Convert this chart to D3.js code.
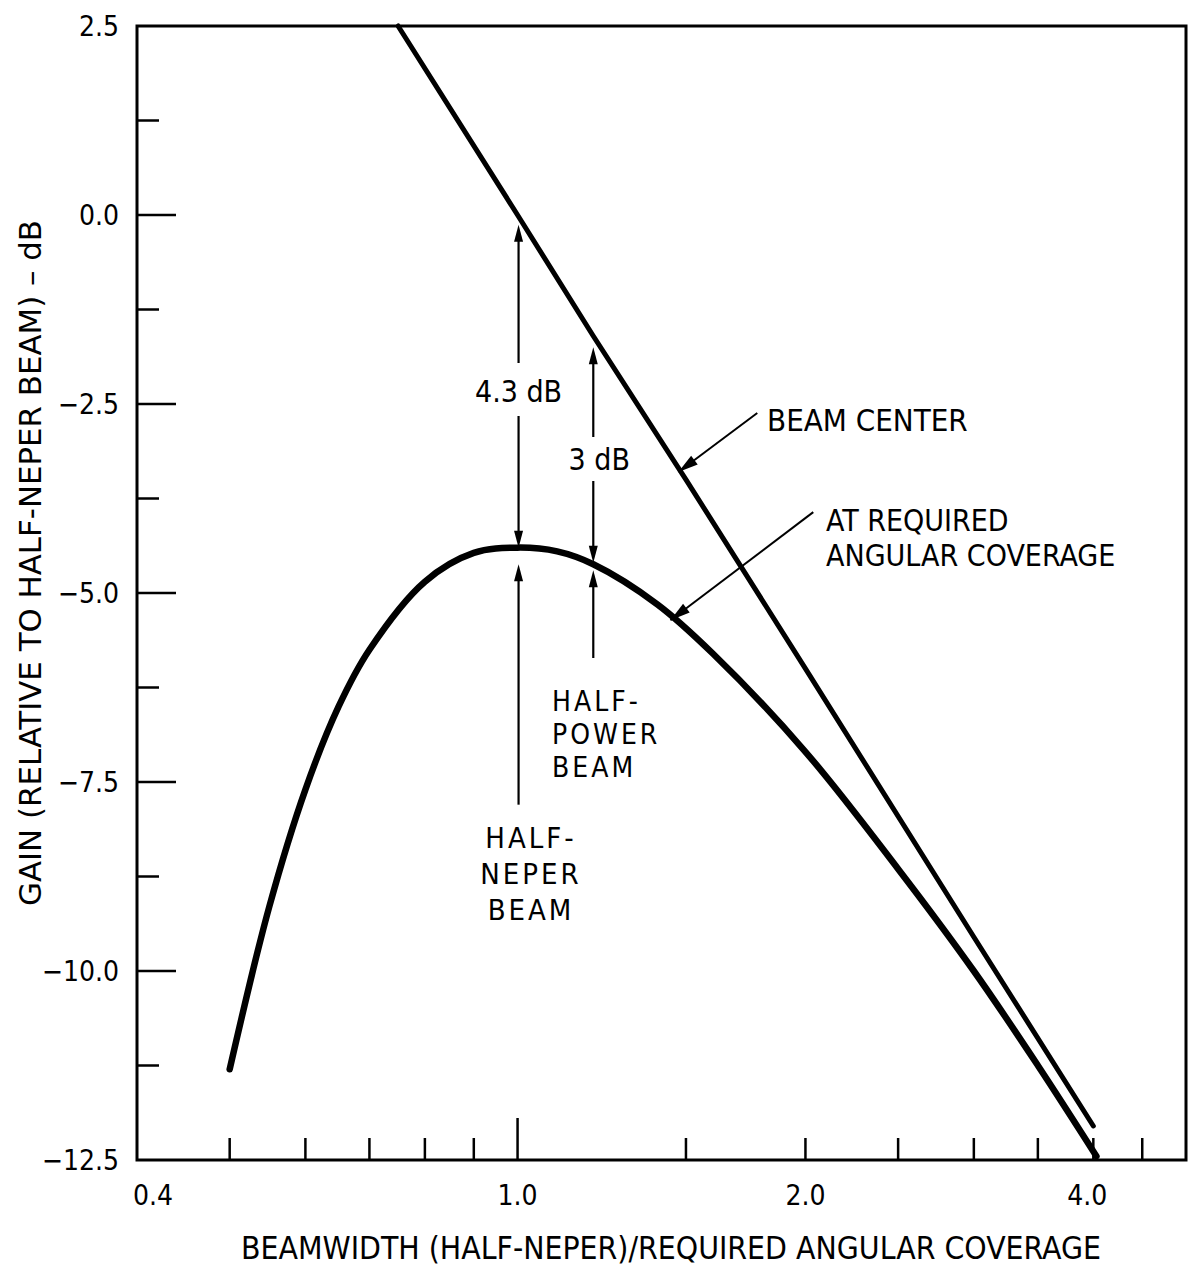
<!DOCTYPE html>
<html><head><meta charset="utf-8">
<script src="https://cdn.jsdelivr.net/npm/d3@7"></script>
<style>
html,body{margin:0;padding:0;background:#fff;}
text{font-family:"DejaVu Sans Condensed","DejaVu Sans",sans-serif;font-stretch:condensed;fill:#000;}
</style></head><body>
<svg id="c" width="1193" height="1271"></svg>
<script>
// ---- data ----
const xDomain = [0.4, 5.0];
const yDomain = [-12.5, 2.5];
const xLabelTicks = [0.4, 1.0, 2.0, 4.0];
const xTickLabels = ["0.4", "1.0", "2.0", "4.0"];
const xMajorTicks = [1.0];
const xMinorTicks = [0.5, 0.6, 0.7, 0.8, 0.9, 1.5, 2.0, 2.5, 3.0, 3.5, 4.0, 4.5];
const yMajorTicks = [0.0, -2.5, -5.0, -7.5, -10.0];
const yMinorTicks = [1.25, -1.25, -3.75, -6.25, -8.75, -11.25];
const yLabelTicks = [2.5, 0.0, -2.5, -5.0, -7.5, -10.0, -12.5];
const yTickLabels = ["2.5", "0.0", "\u22122.5", "\u22125.0", "\u22127.5", "\u221210.0", "\u221212.5"];
const beamCenterX = [0.75, 1.0, 1.2, 1.5, 2.0, 3.0, 4.0];
const beamCenterY = [2.5, 0.0, -1.6, -3.5, -6.0, -9.55, -12.05];
const coverageX = [0.5, 0.55, 0.6, 0.65, 0.7, 0.8, 0.9, 1.0, 1.1, 1.2, 1.4, 1.6, 2.0, 2.5, 3.0, 3.5, 4.03];
const coverageY = [-11.3, -9.15, -7.6, -6.5, -5.75, -4.85, -4.47, -4.4, -4.45, -4.62, -5.15, -5.8, -7.1, -8.65, -10.0, -11.25, -12.45];
const xTitle = "BEAMWIDTH  (HALF-NEPER)/REQUIRED ANGULAR COVERAGE";
const yTitle = "GAIN  (RELATIVE TO HALF-NEPER BEAM) \u2013 dB";

// ---- layout ----
const svg = d3.select("#c");
const L = 137, R = 1186, T = 26, B = 1160;
const x = d3.scaleLog().domain(xDomain).range([L, R]);
const y = d3.scaleLinear().domain(yDomain).range([B, T]);

// frame
svg.append("rect").attr("x", L).attr("y", T).attr("width", R - L).attr("height", B - T)
  .attr("fill", "none").attr("stroke", "#000").attr("stroke-width", 3);

// y ticks
const gy = svg.append("g");
gy.selectAll(".ymaj").data(yMajorTicks).join("line")
  .attr("x1", L).attr("x2", L + 39).attr("y1", d => y(d)).attr("y2", d => y(d))
  .attr("stroke", "#000").attr("stroke-width", 2.5);
gy.selectAll(".ymin").data(yMinorTicks).join("line")
  .attr("x1", L).attr("x2", L + 22).attr("y1", d => y(d)).attr("y2", d => y(d))
  .attr("stroke", "#000").attr("stroke-width", 2.5);
gy.selectAll("text").data(yLabelTicks).join("text")
  .attr("x", 119).attr("y", d => y(d)).attr("dy", "0.36em")
  .attr("text-anchor", "end").attr("font-size", 28).text((d, i) => yTickLabels[i]);

// x ticks
const gx = svg.append("g");
gx.selectAll(".xmaj").data(xMajorTicks).join("line")
  .attr("x1", d => x(d)).attr("x2", d => x(d)).attr("y1", B).attr("y2", B - 42)
  .attr("stroke", "#000").attr("stroke-width", 2.5);
gx.selectAll(".xmin").data(xMinorTicks).join("line")
  .attr("x1", d => x(d)).attr("x2", d => x(d)).attr("y1", B).attr("y2", B - 22)
  .attr("stroke", "#000").attr("stroke-width", 2.5);
gx.selectAll("text").data(xLabelTicks).join("text")
  .attr("x", (d, i) => x(d) + (i === 0 ? 16 : (i === 3 ? -6 : 0))).attr("y", 1205)
  .attr("text-anchor", "middle").attr("font-size", 28).text((d, i) => xTickLabels[i]);

// axis titles
svg.append("text").attr("x", 671).attr("y", 1259).attr("text-anchor", "middle")
  .attr("font-size", 32).attr("textLength", 860).attr("lengthAdjust", "spacingAndGlyphs").text(xTitle);
svg.append("text").attr("transform", "translate(41,563) rotate(-90)").attr("text-anchor", "middle")
  .attr("font-size", 31).attr("textLength", 686).attr("lengthAdjust", "spacingAndGlyphs").text(yTitle);

// curves
const line = d3.line().x(d => x(d[0])).y(d => y(d[1]));
const lineSmooth = d3.line().x(d => x(d[0])).y(d => y(d[1])).curve(d3.curveCatmullRom.alpha(0.5));
svg.append("path").datum(beamCenterX.map((v, i) => [v, beamCenterY[i]]))
  .attr("d", line).attr("fill", "none").attr("stroke", "#000").attr("stroke-width", 5).attr("stroke-linecap", "round");
svg.append("path").datum(coverageX.map((v, i) => [v, coverageY[i]]))
  .attr("d", lineSmooth).attr("fill", "none").attr("stroke", "#000").attr("stroke-width", 6.5).attr("stroke-linecap", "round");

// arrow helpers
function arrowHead(tx, ty, fx, fy, len = 17, hw = 4.5) {
  const a = Math.atan2(ty - fy, tx - fx);
  const bx = tx - len * Math.cos(a), by = ty - len * Math.sin(a);
  const nx = -Math.sin(a) * hw, ny = Math.cos(a) * hw;
  svg.append("path").attr("d", `M${tx},${ty}L${bx + nx},${by + ny}L${bx - nx},${by - ny}Z`).attr("fill", "#000");
}
function seg(x1, y1, x2, y2, w = 2.2) {
  svg.append("line").attr("x1", x1).attr("y1", y1).attr("x2", x2).attr("y2", y2)
    .attr("stroke", "#000").attr("stroke-width", w);
}

// 4.3 dB dimension arrow at x=1.0
{
  const px = x(1.0) + 1, top = y(-0.13), bot = y(-4.4), gapT = 363, gapB = 416;
  seg(px, top + 8, px, gapT); seg(px, gapB, px, bot - 8);
  arrowHead(px, top, px, top + 20); arrowHead(px, bot, px, bot - 20);
  svg.append("text").attr("x", px).attr("y", 402).attr("text-anchor", "middle").attr("font-size", 30).text("4.3 dB");
}
// 3 dB dimension arrow at x=1.2
{
  const px = x(1.2), top = y(-1.75), bot = y(-4.6), gapT = 437, gapB = 481;
  seg(px, top + 8, px, gapT); seg(px, gapB, px, bot - 8);
  arrowHead(px, top, px, top + 20); arrowHead(px, bot, px, bot - 20);
  svg.append("text").attr("x", px + 6).attr("y", 470).attr("text-anchor", "middle").attr("font-size", 30).text("3 dB");
}
// half-neper pointer
{
  const px = x(1.0) + 1, tip = y(-4.62), base = y(-7.8);
  seg(px, base, px, tip + 8); arrowHead(px, tip, px, tip + 20);
}
// half-power pointer
{
  const px = x(1.2), tip = y(-4.7), base = y(-5.86);
  seg(px, base, px, tip + 8); arrowHead(px, tip, px, tip + 20);
}
// leader arrows
{
  const x1 = x(1.781), y1 = y(-2.62), x2 = x(1.473), y2 = y(-3.40);
  seg(x1, y1, x2, y2, 2); arrowHead(x2, y2, x1, y1, 20, 5.5);
  const x3 = x(2.038), y3 = y(-3.93), x4 = x(1.445), y4 = y(-5.36);
  seg(x3, y3, x4, y4, 2); arrowHead(x4, y4, x3, y3, 20, 5.5);
}

// annotation texts (one text element per line)
function multi(lines, xx, yy, anchor, lh, ls, fs) {
  lines.forEach((s, i) => svg.append("text").attr("font-size", fs).attr("text-anchor", anchor)
    .attr("letter-spacing", ls).attr("x", xx).attr("y", yy + i * lh).text(s));
}
multi(["BEAM CENTER"], 767, 431, "start", 0, 0, 31);
multi(["AT REQUIRED", "ANGULAR COVERAGE"], 826, 531, "start", 35, 0, 30);
multi(["HALF-", "POWER", "BEAM"], 552, 711, "start", 33, 3, 28);
multi(["HALF-", "NEPER", "BEAM"], 531, 848, "middle", 36, 3, 29);
</script>
</body></html>
